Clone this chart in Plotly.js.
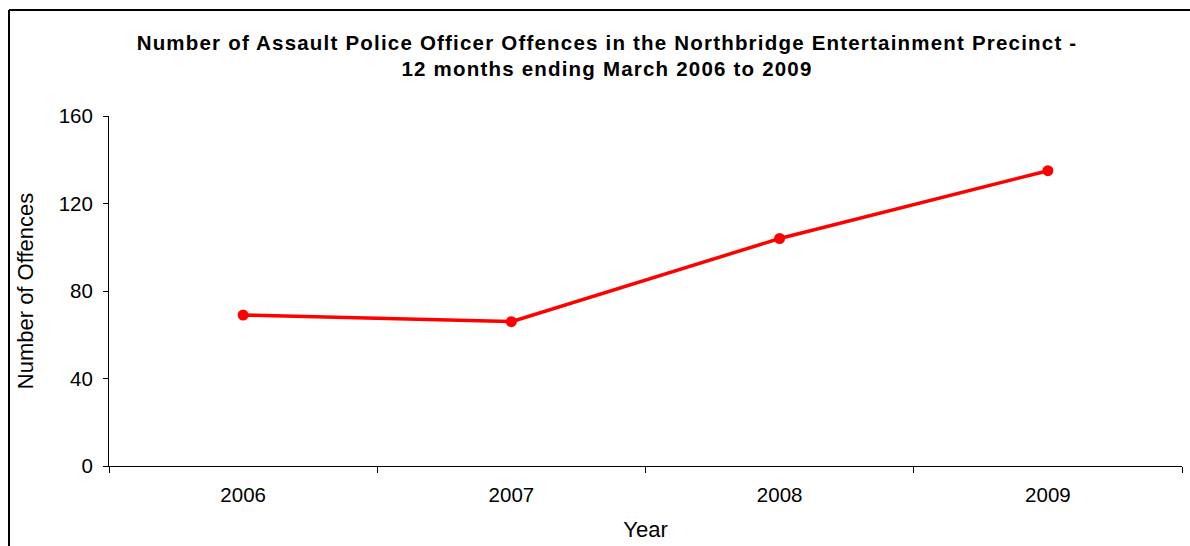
<!DOCTYPE html>
<html>
<head>
<meta charset="utf-8">
<script src="https://cdn.plot.ly/plotly-3.0.1.min.js"></script>
<style>
  html, body { margin: 0; padding: 0; background: #ffffff; }
  #chart { width: 1190px; height: 546px; }
  #chart .gtitle { letter-spacing: 1.2px; }
</style>
</head>
<body>
<div id="chart"></div>
<script>
// Data
const years = ["2006", "2007", "2008", "2009"];
const offences = [69, 66, 104, 135];
const titleLines = [
  "Number of Assault Police Officer Offences in the Northbridge Entertainment Precinct -",
  "12 months ending March 2006 to 2009"
];
const xTitle = "Year";
const yTitle = "Number of Offences";

const FONT = "Liberation Sans, Arial, sans-serif";

const trace = {
  x: years,
  y: offences,
  type: "scatter",
  mode: "lines+markers",
  line: { color: "#ff0000", width: 3.5 },
  marker: { color: "#ff0000", size: 11 },
  cliponaxis: false,
  hoverinfo: "x+y"
};

// frame geometry in paper coordinates
const L = 109, R = 8, T = 116, B = 80, W = 1190, H = 546;
const pw = W - L - R, ph = H - T - B;
const px = v => (v - L) / pw;
const py = v => (H - B - v) / ph;

const layout = {
  width: W,
  height: H,
  margin: { l: L, r: R, t: T, b: B, pad: 0 },
  paper_bgcolor: "#ffffff",
  plot_bgcolor: "#ffffff",
  showlegend: false,
  font: { family: FONT, color: "#000000", size: 20 },
  title: {
    text: titleLines.join("<br>"),
    font: { family: FONT, size: 20.5, color: "#000000", weight: "bold" },
    xref: "container",
    x: 607 / W,
    xanchor: "center",
    yref: "container",
    y: 1 - 49.5 / H,
    yanchor: "top"
  },
  xaxis: {
    type: "category",
    range: [-0.5, 3.5],
    tickson: "boundaries",
    ticks: "outside",
    ticklen: 6,
    tickwidth: 1,
    tickcolor: "#000000",
    showline: true,
    linecolor: "#000000",
    linewidth: 1,
    showgrid: false,
    zeroline: false,
    ticklabelstandoff: 10,
    tickfont: { family: FONT, size: 20.5, color: "#000000" },
    title: { text: xTitle, font: { family: FONT, size: 22, color: "#000000" }, standoff: 17 },
    automargin: false,
    fixedrange: true
  },
  yaxis: {
    range: [0, 160],
    dtick: 40,
    tick0: 0,
    ticks: "outside",
    ticklen: 5,
    tickwidth: 1,
    tickcolor: "#000000",
    showline: true,
    linecolor: "#000000",
    linewidth: 1,
    showgrid: false,
    zeroline: false,
    ticklabelstandoff: 6,
    tickfont: { family: FONT, size: 20.5, color: "#000000" },
    title: { text: yTitle, font: { family: FONT, size: 22, color: "#000000" }, standoff: 18 },
    automargin: false,
    fixedrange: true
  },
  shapes: [
    { type: "line", xref: "paper", yref: "paper", x0: px(9), x1: px(1195), y0: py(10), y1: py(10),
      line: { color: "#000000", width: 2 } },
    { type: "line", xref: "paper", yref: "paper", x0: px(9), x1: px(9), y0: py(10), y1: py(550),
      line: { color: "#000000", width: 2 } }
  ]
};

Plotly.newPlot("chart", [trace], layout, { displayModeBar: false });
</script>
</body>
</html>
